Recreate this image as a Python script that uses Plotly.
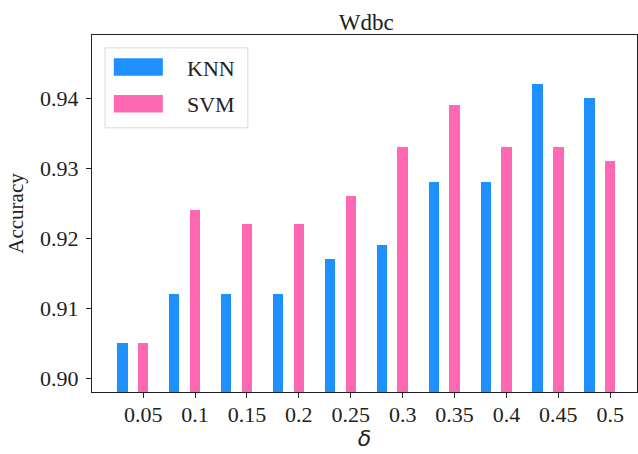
import plotly.graph_objects as go

# Accuracy per delta for the Wdbc dataset
deltas = ["0.05", "0.1", "0.15", "0.2", "0.25", "0.3", "0.35", "0.4", "0.45", "0.5"]
knn_acc = [0.905, 0.912, 0.912, 0.912, 0.917, 0.919, 0.928, 0.928, 0.942, 0.940]
svm_acc = [0.905, 0.924, 0.922, 0.922, 0.926, 0.933, 0.939, 0.933, 0.933, 0.931]
y_ticks = [0.90, 0.91, 0.92, 0.93, 0.94]

KNN_COLOR = "#1E90FF"
SVM_COLOR = "#FF69B4"
FONT = "Liberation Serif"
AXIS_COLOR = "#222222"
TEXT_COLOR = "#222222"

fig = go.Figure()
fig.add_trace(go.Bar(x=deltas, y=knn_acc, name="KNN", marker_color=KNN_COLOR,
                     marker_line_width=0, width=0.2, offset=-0.5, showlegend=False))
fig.add_trace(go.Bar(x=deltas, y=svm_acc, name="SVM", marker_color=SVM_COLOR,
                     marker_line_width=0, width=0.2, offset=-0.1, showlegend=False))

# Hand-built legend box with wide swatches
fig.add_shape(type="rect", xref="paper", yref="paper", x0=0.024, x1=0.286, y0=0.740, y1=0.964,
              line=dict(color="#d9d9d9", width=1), fillcolor="rgba(255,255,255,0.9)", layer="above")
for (name, color, y0, y1, yc) in [("KNN", KNN_COLOR, 0.886, 0.935, 0.905),
                                  ("SVM", SVM_COLOR, 0.783, 0.832, 0.804)]:
    fig.add_shape(type="rect", xref="paper", yref="paper", x0=0.040, x1=0.130, y0=y0, y1=y1,
                  line=dict(width=0), fillcolor=color, layer="above")
    fig.add_annotation(text=name, xref="paper", yref="paper", x=0.171, y=yc,
                       xanchor="left", yanchor="middle", showarrow=False,
                       font=dict(family=FONT, size=22, color=TEXT_COLOR))

fig.update_layout(
    width=638, height=454,
    margin=dict(l=92, r=1, t=35, b=62),
    plot_bgcolor="white", paper_bgcolor="white",
    bargap=0, barmode="overlay",
    title=dict(text="Wdbc", x=0.574, xanchor="center", y=0.951, yanchor="middle",
               font=dict(family=FONT, size=23, color=TEXT_COLOR)),
    font=dict(family=FONT, color=TEXT_COLOR),
)
fig.update_xaxes(
    type="category", range=[-0.985, 9.515],
    showline=True, mirror=True, linecolor=AXIS_COLOR, linewidth=1.2,
    ticks="outside", ticklen=5, tickcolor=AXIS_COLOR, showgrid=False,
    ticklabelstandoff=-3,
    tickfont=dict(family=FONT, size=22, color=TEXT_COLOR),
    title=dict(text="<i>δ</i>", font=dict(family="DejaVu Sans", size=22, color=TEXT_COLOR), standoff=1),
)
fig.update_yaxes(
    range=[0.898, 0.949], tickvals=y_ticks, tickformat=".2f",
    showline=True, mirror=True, linecolor=AXIS_COLOR, linewidth=1.2,
    ticks="outside", ticklen=5, tickcolor=AXIS_COLOR, showgrid=False, zeroline=False,
    ticklabelstandoff=3,
    tickfont=dict(family=FONT, size=22, color=TEXT_COLOR),
    title=dict(text="Accuracy", font=dict(family=FONT, size=21, color=TEXT_COLOR), standoff=10),
)

fig.write_html("out.html")
